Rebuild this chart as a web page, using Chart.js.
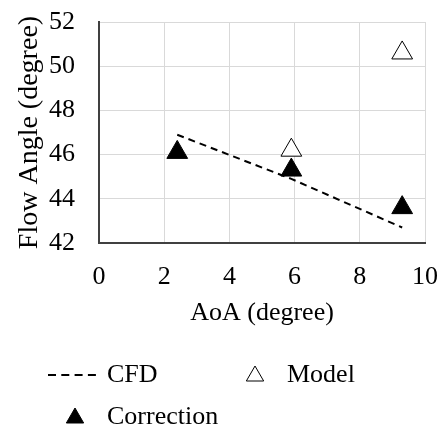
<!DOCTYPE html>
<html>
<head>
<meta charset="utf-8">
<script src="https://cdn.jsdelivr.net/npm/chart.js@4/dist/chart.umd.min.js"></script>
<style>
  html, body { margin: 0; padding: 0; background: #fff; }
  #wrap { width: 439px; height: 429px; }
</style>
</head>
<body>
<div id="wrap"><canvas id="myChart" width="439" height="429"></canvas></div>
<script>
// values
var cfdAoa = [2.4, 5.9, 9.3];
var cfdAngle = [46.9, 44.9, 42.7];
var modelAoa = [5.9, 9.3];
var modelAngle = [46.2, 50.6];
var corrAoa = [2.4, 5.9, 9.3];
var corrAngle = [46.1, 45.3, 43.6];
var xTicks = [0, 2, 4, 6, 8, 10];
var yTicks = [42, 44, 46, 48, 50, 52];

var serif = "'Liberation Serif', 'Times New Roman', serif";

function toPoints(xs, ys) {
  return xs.map(function (x, i) { return { x: x, y: ys[i] }; });
}

// legend drawn in two columns like the original
var columnLegend = {
  id: "columnLegend",
  afterDraw: function (chart) {
    var c = chart.ctx;
    var slots = [{ x: 107, y: 375 }, { x: 287, y: 375 }, { x: 107, y: 417 }];
    chart.data.datasets.forEach(function (ds, i) {
      var s = slots[i];
      c.save();
      if (ds.showLine) {
        c.strokeStyle = ds.borderColor;
        c.lineWidth = ds.borderWidth;
        c.setLineDash([8, 5.3]);
        c.beginPath();
        c.moveTo(s.x - 59, s.y);
        c.lineTo(s.x - 11, s.y);
        c.stroke();
      } else {
        c.fillStyle = ds.backgroundColor;
        c.strokeStyle = ds.borderColor;
        c.lineWidth = 1;
        Chart.helpers.drawPoint(c, { pointStyle: "triangle", radius: 10, borderWidth: 1, rotation: 0 }, s.x - 32, s.y + 1);
      }
      c.setLineDash([]);
      c.fillStyle = "#000";
      c.font = "26px " + serif;
      c.textBaseline = "middle";
      c.textAlign = "left";
      c.fillText(ds.label, s.x, s.y);
      c.restore();
    });
  }
};

var ctx = document.getElementById("myChart").getContext("2d");
var myChart = new Chart(ctx, {
  type: "scatter",
  data: {
    datasets: [
      {
        label: "CFD",
        data: toPoints(cfdAoa, cfdAngle),
        showLine: true,
        borderColor: "#000",
        borderWidth: 2,
        borderDash: [7, 5],
        pointRadius: 0,
        tension: 0
      },
      {
        label: "Model",
        data: toPoints(modelAoa, modelAngle),
        pointStyle: "triangle",
        pointRadius: 12,
        pointHoverRadius: 12,
        backgroundColor: "#fff",
        borderColor: "#000",
        borderWidth: 1
      },
      {
        label: "Correction",
        data: toPoints(corrAoa, corrAngle),
        pointStyle: "triangle",
        pointRadius: 12,
        pointHoverRadius: 12,
        backgroundColor: "#000",
        borderColor: "#000",
        borderWidth: 1
      }
    ]
  },
  options: {
    responsive: false,
    animation: false,
    layout: { padding: { left: 10, right: 14, top: 22, bottom: 100 } },
    plugins: {
      legend: { display: false },
      tooltip: { enabled: false }
    },
    scales: {
      x: {
        type: "linear",
        min: 0,
        max: 10,
        afterBuildTicks: function (axis) {
          axis.ticks = xTicks.map(function (v) { return { value: v }; });
        },
        afterFit: function (axis) {
          axis.height = 86;
          axis.paddingRight = 0;
        },
        grid: { color: "#d9d9d9", lineWidth: 1, drawTicks: false },
        border: { display: true, color: "#404040", width: 2 },
        ticks: { color: "#000", padding: 19, font: { family: serif, size: 26 } },
        title: {
          display: true,
          text: "AoA (degree)",
          color: "#000",
          font: { family: serif, size: 26 },
          padding: { top: 4, bottom: 0 }
        }
      },
      y: {
        type: "linear",
        min: 42,
        max: 52,
        afterBuildTicks: function (axis) {
          axis.ticks = yTicks.map(function (v) { return { value: v }; });
        },
        afterFit: function (axis) {
          axis.width = 89;
          axis.paddingTop = 0;
          axis.paddingBottom = 0;
        },
        grid: { color: "#d9d9d9", lineWidth: 1, drawTicks: false },
        border: { display: true, color: "#404040", width: 2 },
        ticks: { color: "#000", padding: 24, font: { family: serif, size: 26 } },
        title: {
          display: true,
          text: "Flow Angle (degree)",
          color: "#000",
          font: { family: serif, size: 28 },
          padding: { top: 3, bottom: 4 }
        }
      }
    }
  },
  plugins: [columnLegend]
});
</script>
</body>
</html>
